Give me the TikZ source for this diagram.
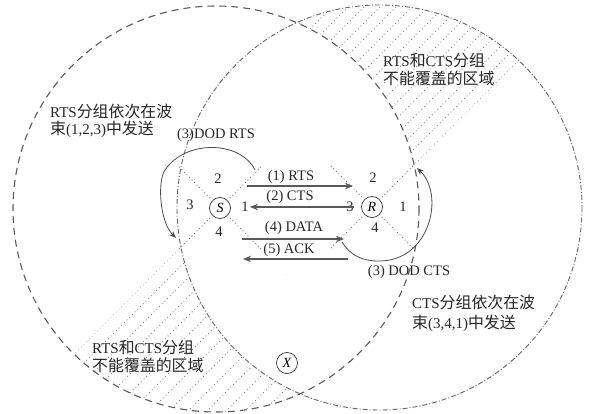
\documentclass[tikz,border=0pt]{standalone}
\usepackage{fontspec}
\setmainfont{Liberation Serif}
\newfontfamily\cjk{Noto Sans CJK SC}[Scale=1.06]
\usetikzlibrary{arrows.meta}
\newcommand{\zh}[1]{{\cjk #1}}
\begin{document}
\begin{tikzpicture}[x=1pt,y=-1pt,
  txt/.style={font=\fontsize{14.5}{16}\selectfont, inner sep=0pt, text=black!85},
  lbl/.style={txt, align=left, anchor=west},
  stn/.style={draw=black!80, circle, minimum size=21pt, inner sep=0pt, line width=0.7pt, font=\fontsize{14}{16}\selectfont\itshape},
  xline/.style={line cap=round, dash pattern=on 0pt off 3.6pt, line width=1.2pt, black!55},
  hatch/.style={line cap=round, dash pattern=on 0pt off 3.8pt, line width=1.2pt, black!50},
  msg/.style={line width=1.3pt, draw=black!65, -{Stealth[length=8pt,width=6.5pt,inset=2.5pt]}},
  dod/.style={line width=0.8pt, draw=black!70, -{Stealth[length=7pt,width=5.5pt,inset=2pt]}},
  rangeS/.style={draw=black!65, line width=1.1pt, dash pattern=on 7pt off 5pt},
  rangeR/.style={draw=black!60, line width=0.9pt, dash pattern=on 5pt off 2pt on 1pt off 2pt}]
\useasboundingbox (0,0) rectangle (589,414);
\coordinate (cS) at (216,209);
\coordinate (cR) at (379.5,207.5);
% upper-right hatch
\begin{scope}
  \clip (cR) circle[radius=202.5];
  \clip (372,207) -- ++(450,-450) -- ++(-900,0) -- cycle;
  \foreach \k in {0,...,18}{
    \draw[hatch] (372-16*\k-300,507) -- (372-16*\k+300,-93);
  }
  \fill[white] (cS) circle[radius=203];
\end{scope}
% lower-left hatch
\begin{scope}
  \clip (cS) circle[radius=203];
  \clip (220,208) -- ++(450,450) -- ++(-900,0) -- cycle;
  \foreach \k in {0,...,16}{
    \draw[hatch] (220+19*\k-300,508) -- (220+19*\k+300,-92);
  }
  \fill[white] (cR) circle[radius=202.5];
\end{scope}
% ranges
\draw[rangeS] (cS) circle[radius=203];
\draw[rangeR] (cR) circle[radius=202.5];
% stations
\node[stn] (S) at (220,208) {S};
\node[stn] (R) at (372,207) {R};
\node[stn] (X) at (287,363) {X};
\foreach \n in {S,R}{
  \draw[xline] (\n.135) -- ++(-35,-35);
  \draw[xline] (\n.45) -- ++(35,-35);
  \draw[xline] (\n.-45) -- ++(35,35);
  \draw[xline] (\n.-135) -- ++(-35,35);
}
% beam numbers
\node[txt] at (218,179) {2};
\node[txt] at (190,205) {3};
\node[txt] at (219,232) {4};
\node[txt] at (245,207) {1};
\node[txt] at (373,178) {2};
\node[txt] at (350,207) {3};
\node[txt] at (403,207) {1};
\node[txt] at (375,228) {4};
% messages
\coordinate (m1a) at (247,186); \coordinate (m1b) at (353,186);
\coordinate (m2a) at (354,207); \coordinate (m2b) at (250,207);
\coordinate (m4a) at (242,239); \coordinate (m4b) at (344,239);
\coordinate (m5a) at (348,259); \coordinate (m5b) at (243,259);
\draw[msg] (m1a) -- (m1b);
\draw[msg] (m2a) -- (m2b);
\draw[msg] (m4a) -- (m4b);
\draw[msg] (m5a) -- (m5b);
\node[txt] at (291,177) {(1) RTS};
\node[txt] at (290,197) {(2) CTS};
\node[txt] at (294,228) {(4) DATA};
\node[txt] at (289,250) {(5) ACK};
% DOD arcs
\draw[dod] (255,170) .. controls (240,140) and (185,140) .. (165,170) .. controls (157,182) and (160,222) .. (176,238);
\draw[dod] (342,242) .. controls (350,255) and (362,261) .. (378,261) .. controls (430,262) and (445,195) .. (417,168);
\node[txt] at (216,135) {(3)DOD RTS};
\node[txt] at (409,272) {(3) DOD CTS};
% region labels
\node[lbl, font=\fontsize{15}{17}\selectfont] at (50,121) {RTS\zh{分组依次在波}\\\zh{束}(1,2,3)\zh{中发送}};
\node[lbl, font=\fontsize{15}{18}\selectfont] at (383,69) {RTS\zh{和}CTS\zh{分组}\\\zh{不能覆盖的区域}};
\node[lbl, font=\fontsize{15}{18}\selectfont] at (92,356) {RTS\zh{和}CTS\zh{分组}\\\zh{不能覆盖的区域}};
\node[lbl, font=\fontsize{15}{20}\selectfont] at (412,313) {CTS\zh{分组依次在波}\\\zh{束}(3,4,1)\zh{中发送}};
\end{tikzpicture}
\end{document}
